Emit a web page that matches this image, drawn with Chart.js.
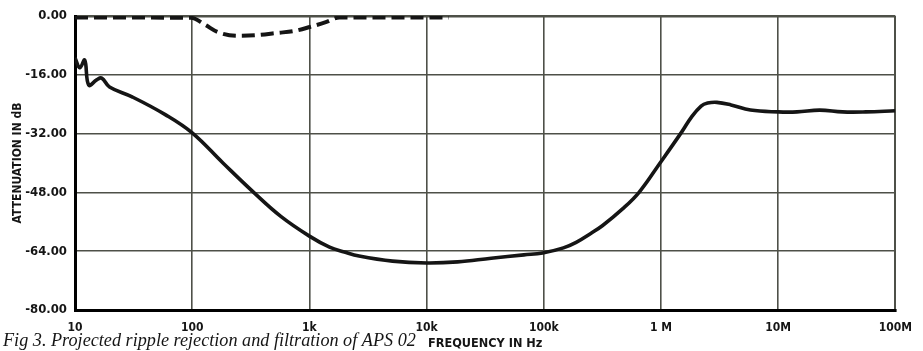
<!DOCTYPE html>
<html><head><meta charset="utf-8">
<script src="https://cdn.jsdelivr.net/npm/chart.js@4/dist/chart.umd.min.js"></script>
<style>html,body{margin:0;padding:0;background:#fff;} canvas{display:block;}</style>
</head><body>
<canvas id="c" width="923" height="351"></canvas>
<script>
// ---- data ----
const freqSolid = [10, 11, 12.1, 13.1, 15.3, 16.9, 19.7, 30.7, 59.4, 100, 183, 340, 574, 1000, 1486, 1988, 2655, 5128, 10000, 18400, 35600, 67600, 97700, 147000, 189000, 248000, 318000, 470000, 653000, 982000, 1500000, 1820000, 2200000, 2500000, 3000000, 3960000, 5800000, 10000000, 14500000, 22600000, 35400000, 56000000, 100000000];
const dbSolid   = [-11.4, -14.1, -12.0, -18.8, -17.4, -16.9, -19.3, -22.0, -26.9, -31.8, -40.0, -48.2, -54.6, -59.9, -62.9, -64.2, -65.3, -66.7, -67.2, -66.9, -65.9, -65.0, -64.5, -63.1, -61.6, -59.3, -57.0, -52.5, -47.9, -40.0, -31.6, -27.5, -24.5, -23.7, -23.5, -24.2, -25.6, -26.1, -26.1, -25.6, -26.1, -26.1, -25.8];
const freqDashed = [10, 98, 129, 166, 245, 361, 532, 740, 1007, 1400, 1803, 15500];
const dbDashed   = [-0.4, -0.5, -2.4, -4.4, -5.4, -5.2, -4.6, -4.1, -3.0, -1.6, -0.4, -0.4];
const xTickValues = [10, 100, 1e3, 1e4, 1e5, 1e6, 1e7, 1e8];
const xTickLabels = ["10", "100", "1k", "10k", "100k", "1 M", "10M", "100M"];
const yTickValues = [0, -16, -32, -48, -64, -80];
const yTickLabels = ["0.00", "-16.00", "-32.00", "-48.00", "-64.00", "-80.00"];
const xTitle = "FREQUENCY IN Hz";
const yTitle = "ATTENUATION IN dB";
const caption = "Fig 3. Projected ripple rejection and filtration of APS 02";

const NARROW = "'Liberation Sans Narrow', 'DejaVu Sans Condensed', sans-serif";
const INK = '#151515';
const GRID = '#4e5048';

const captionPlugin = {
  id: 'caption',
  afterDraw(chart) {
    const ctx = chart.ctx;
    ctx.save();
    ctx.fillStyle = INK;
    ctx.font = "italic 18.2px 'Liberation Serif', serif";
    ctx.textAlign = 'left';
    ctx.textBaseline = 'alphabetic';
    ctx.fillText(caption, 3, 346);
    ctx.restore();
  }
};

new Chart(document.getElementById('c'), {
  type: 'line',
  data: {
    datasets: [
      {
        data: freqSolid.map((f, i) => ({x: f, y: dbSolid[i]})),
        borderColor: INK, borderWidth: 3.6, pointRadius: 0, tension: 0.4, fill: false
      },
      {
        data: freqDashed.map((f, i) => ({x: f, y: dbDashed[i]})),
        borderColor: INK, borderWidth: 4, borderDash: [13, 6], pointRadius: 0, cubicInterpolationMode: 'monotone', fill: false
      }
    ]
  },
  options: {
    responsive: false,
    animation: false,
    devicePixelRatio: 1,
    layout: { padding: { left: 0, right: 18, top: 16, bottom: 0 } },
    plugins: { legend: { display: false }, tooltip: { enabled: false } },
    scales: {
      x: {
        type: 'logarithmic', min: 10, max: 1e8,
        afterBuildTicks: s => { s.ticks = xTickValues.map(v => ({ value: v })); },
        afterFit: s => { s.height = 41; },
        ticks: {
          autoSkip: false, maxRotation: 0, padding: 11, color: INK,
          font: { family: NARROW, size: 12, weight: 'bold' },
          callback: v => xTickLabels[xTickValues.indexOf(v)]
        },
        grid: {
          drawTicks: false, color: GRID,
          lineWidth: c => (c.tick && c.tick.value === 1e8) ? 2 : 1.6
        },
        border: { display: true, width: 3, color: '#000' },
        title: {
          display: true, text: xTitle, color: INK,
          font: { family: NARROW, size: 12.6, weight: 'bold' },
          padding: { top: 0, bottom: 0 }
        }
      },
      y: {
        type: 'linear', min: -80, max: 0,
        afterBuildTicks: s => { s.ticks = yTickValues.map(v => ({ value: v })); },
        afterFit: s => { s.width = 75; },
        ticks: {
          padding: 8, color: INK,
          font: { family: NARROW, size: 13, weight: 'bold' },
          callback: v => yTickLabels[yTickValues.indexOf(v)]
        },
        grid: {
          drawTicks: false, color: GRID,
          lineWidth: c => (c.tick && c.tick.value === 0) ? 2.5 : 1.6
        },
        border: { display: true, width: 3, color: '#000' },
        title: {
          display: true, text: yTitle, color: INK,
          font: { family: NARROW, size: 12, weight: 'bold' },
          padding: { top: 11, bottom: 0 }
        }
      }
    }
  },
  plugins: [captionPlugin]
});
</script>
</body></html>
